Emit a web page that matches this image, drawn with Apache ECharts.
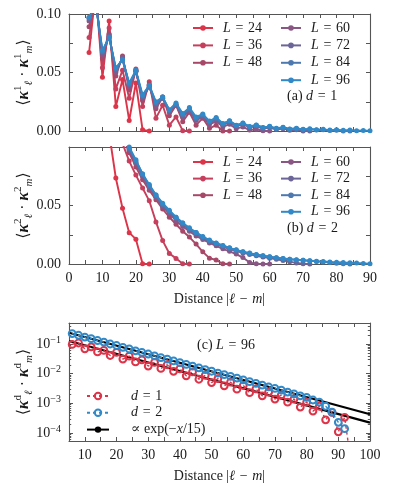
<!DOCTYPE html>
<html>
<head>
<meta charset="utf-8">
<script src="https://cdn.jsdelivr.net/npm/echarts@6/dist/echarts.min.js"></script>
<style>
html, body { margin: 0; padding: 0; background: #fff; }
#chart { width: 395px; height: 487px; }
</style>
</head>
<body>
<div id="chart"></div>
<script>
// distance |l - m| (even steps)
const distance = [6, 8, 10, 12, 14, 16, 18, 20, 22, 24, 26, 28, 30, 32, 34, 36, 38, 40, 42, 44, 46, 48,
  50, 52, 54, 56, 58, 60, 62, 64, 66, 68, 70, 72, 74, 76, 78, 80, 82, 84, 86, 88, 90, 92, 94]

const sizes = ['L=24', 'L=36', 'L=48', 'L=60', 'L=72', 'L=84', 'L=96']
const colors = ['#dc3448', '#c63f5c', '#a84868', '#8a5784', '#6b6598', '#4d79b0', '#3189c8']

// (a) d = 1
const d1L24 = [0.067, 0.120, 0.046, 0.094, 0.021, 0.044, 0.009, 0.041, 0.001, 0]
const d1L36 = [0.080, 0.118, 0.054, 0.088, 0.036, 0.052, 0.028, 0.053, 0.021, 0.042, 0.011, 0.022, 0.005, 0.012, 0.0003, 0]
const d1L48 = [0.089, 0.113, 0.062, 0.083, 0.047, 0.064, 0.035, 0.052, 0.026, 0.040, 0.019, 0.029, 0.013, 0.022, 0.008, 0.016,
  0.005, 0.011, 0.0023, 0.005, 0, 0]
const d1L60 = [0.094, 0.111, 0.065, 0.082, 0.050, 0.063, 0.038, 0.051, 0.028, 0.038, 0.021, 0.028, 0.016, 0.022, 0.012, 0.017,
  0.009, 0.012, 0.0055, 0.0085, 0.0035, 0.0058, 0.002, 0.0035, 0.0008, 0.0015, 0.0002, 0]
const d1L72 = [0.096, 0.110, 0.067, 0.081, 0.052, 0.062, 0.040, 0.051, 0.029, 0.038, 0.023, 0.028, 0.017, 0.022, 0.013, 0.018,
  0.010, 0.013, 0.007, 0.010, 0.0052, 0.0075, 0.0042, 0.0058, 0.003, 0.0042, 0.0021, 0.003, 0.0013, 0.002, 0.0007, 0.001, 0.0001, 0]
const d1L84 = [0.097, 0.109, 0.068, 0.080, 0.053, 0.061, 0.040, 0.051, 0.030, 0.039, 0.024, 0.029, 0.018, 0.023, 0.014, 0.019,
  0.011, 0.014, 0.008, 0.011, 0.006, 0.0085, 0.0048, 0.0066, 0.0037, 0.005, 0.0028, 0.0038, 0.0021, 0.0029, 0.0016, 0.0022,
  0.0012, 0.0016, 0.0008, 0.0011, 0.0004, 0.0006, 0.0001, 0]
const d1L96 = [0.097, 0.108, 0.069, 0.080, 0.054, 0.061, 0.041, 0.052, 0.031, 0.039, 0.025, 0.029, 0.018, 0.024, 0.015, 0.020,
  0.012, 0.0145, 0.0085, 0.0115, 0.0065, 0.0088, 0.0050, 0.0068, 0.0039, 0.0052, 0.0030, 0.0040, 0.0023, 0.0031, 0.0018, 0.0024,
  0.0014, 0.0019, 0.0011, 0.0014, 0.00075, 0.0011, 0.00055, 0.0008, 0.00028, 0.0005, 0.00011, 0.00034, 0.00001]

// (b) d = 2
const d2L24 = [0.20, 0.17, 0.14, 0.112, 0.0735, 0.0477, 0.0268, 0.0212, 0.0002, 0]
const d2L36 = [0.21, 0.18, 0.155, 0.135, 0.118, 0.103, 0.088, 0.076, 0.065, 0.054, 0.036, 0.020, 0.009, 0.0048, 0.0002, 0]
const d2L48 = [0.215, 0.19, 0.165, 0.145, 0.126, 0.111, 0.095, 0.083, 0.072, 0.063, 0.055, 0.047, 0.040, 0.034, 0.028, 0.023,
  0.017, 0.0104, 0.005, 0.0034, 0.0002, 0]
const d2L60 = [0.220, 0.193, 0.168, 0.147, 0.128, 0.113, 0.097, 0.086, 0.075, 0.065, 0.057, 0.049, 0.043, 0.037, 0.032, 0.028,
  0.024, 0.021, 0.018, 0.0155, 0.013, 0.0108, 0.0085, 0.0055, 0.0012, 0.0002, 0, 0]
const d2L72 = [0.222, 0.195, 0.169, 0.149, 0.129, 0.114, 0.098, 0.087, 0.076, 0.066, 0.058, 0.050, 0.044, 0.039, 0.034, 0.029,
  0.026, 0.022, 0.019, 0.017, 0.0148, 0.0128, 0.011, 0.0095, 0.0082, 0.007, 0.006, 0.005, 0.004, 0.003, 0.002, 0.0009, 0.0002, 0]
const d2L84 = [0.224, 0.196, 0.170, 0.150, 0.130, 0.115, 0.099, 0.088, 0.077, 0.067, 0.059, 0.051, 0.045, 0.040, 0.035, 0.030,
  0.027, 0.023, 0.020, 0.0178, 0.0156, 0.0136, 0.0119, 0.0104, 0.0091, 0.008, 0.007, 0.0061, 0.0053, 0.0046, 0.004, 0.0035,
  0.0031, 0.0027, 0.0022, 0.0018, 0.0013, 0.0007, 0.0002, 0]
const d2L96 = [0.225, 0.197, 0.171, 0.151, 0.131, 0.116, 0.100, 0.089, 0.077, 0.068, 0.059, 0.052, 0.046, 0.040, 0.035, 0.031,
  0.027, 0.0235, 0.0205, 0.018, 0.0158, 0.0138, 0.0121, 0.0105, 0.0093, 0.0081, 0.0071, 0.0062, 0.0054, 0.0047, 0.0041, 0.0036,
  0.0032, 0.0028, 0.0024, 0.0021, 0.0018, 0.0016, 0.0013, 0.0011, 0.0008, 0.00051, 0.00023, 0.00014]

// (c) fit lines, proportional to exp(-x/15), end points
const fitX = [5, 100]
const fitD1 = [0.126, 0.000224]
const fitD2 = [0.24, 0.00043]

// tick labels
const linTicksY = [0, 0.05, 0.10]
const logTicks = [1e-4, 1e-3, 1e-2, 1e-1]
const logRange = [5.4e-5, 0.51]

const d1Sets = [d1L24, d1L36, d1L48, d1L60, d1L72, d1L84, d1L96]
const d2Sets = [d2L24, d2L36, d2L48, d2L60, d2L72, d2L84, d2L96]

const FONT = '"Liberation Serif", "DejaVu Serif", serif'
const FRAME = '#555'
const TXT = '#1a1a1a'
const FS = 14
const EQ = '\u2004=\u2004'

const pairs = vals => vals.map((v, i) => [distance[i], v])
const logPairs = vals => vals.map((v, i) => [distance[i], Math.log10(v)])

const base = { fontFamily: FONT, fontSize: FS, color: TXT, fontWeight: 'normal' }
const rich = {
  a: Object.assign({}, base, { lineHeight: 18 }),
  i: Object.assign({}, base, { fontStyle: 'italic', lineHeight: 18 }),
  ya: Object.assign({}, base, { fontSize: 16, lineHeight: 22 }),
  k: Object.assign({}, base, { fontSize: 16, fontStyle: 'italic', fontWeight: 'bold', lineHeight: 22 }),
  sp: Object.assign({}, base, { fontSize: 11, verticalAlign: 'top', lineHeight: 12 }),
  sb: Object.assign({}, base, { fontSize: 11, fontStyle: 'italic', verticalAlign: 'bottom', lineHeight: 12 }),
  ip: Object.assign({}, base, { fontStyle: 'italic', lineHeight: 14, padding: [0, 0, 0, 5] }),
  a14: Object.assign({}, base, { lineHeight: 14 }),
  i14: Object.assign({}, base, { fontStyle: 'italic', lineHeight: 14 }),
  ic: Object.assign({}, base, { fontStyle: 'italic', lineHeight: 14, padding: [0, 0, 0, 17] }),
  ac: Object.assign({}, base, { lineHeight: 14, padding: [0, 0, 0, 17] }),
  e: Object.assign({}, base, { fontSize: 10, verticalAlign: 'top', lineHeight: 10 })
}

const yName = s => `{ya|⟨}{k|κ}{sp|${s}}{sb|ℓ}{ya| · }{k|κ}{sp|${s}}{sb|m}{ya|⟩}`
const xName = '{a|Distance |}{i|ℓ}{a|\u2004−\u2004}{i|m}{a||}'

function legendFmt(name) {
  if (name === 'fit') return '{ac|∝ exp(−}{i14|x}{a14|/15)}'
  const [v, n] = name.split('=')
  if (v === 'd') return `{ic|d}{a14|${EQ}${n}}`
  return `{ip|L}{a14|${EQ}${n}}`
}

function xAx(grid, pos, min, max, labels, extra) {
  return Object.assign({
    type: 'value', gridIndex: grid, position: pos, min, max, interval: 5,
    axisLine: { show: true, onZero: false, lineStyle: { color: FRAME, width: 1.1 } },
    axisTick: { show: true, inside: true, length: 4, lineStyle: { color: FRAME } },
    axisLabel: {
      show: labels, margin: 7, fontFamily: FONT, fontSize: FS, color: TXT,
      formatter: v => (v % 10 === 0 ? String(v) : '')
    },
    splitLine: { show: false }
  }, extra || {})
}

function yLin(grid, pos, labels, showTop) {
  return {
    type: 'value', gridIndex: grid, position: pos, min: 0, max: 0.1, interval: 0.025,
    axisLine: { show: true, onZero: false, lineStyle: { color: FRAME, width: 1.1 } },
    axisTick: { show: true, inside: true, length: 4, lineStyle: { color: FRAME } },
    axisLabel: {
      show: labels, margin: 8, fontFamily: FONT, fontSize: FS, color: TXT,
      formatter: v => {
        const hit = linTicksY.find(t => Math.abs(t - v) < 1e-9)
        if (hit === undefined) return ''
        if (!showTop && hit === 0.10) return ''
        return hit.toFixed(2)
      }
    },
    splitLine: { show: false }
  }
}

const logMin = Math.log10(logRange[0])
const logMax = Math.log10(logRange[1])
const logMajor = logTicks.map(Math.log10)
const logMinor = []
for (let p = -5; p <= 0; p++) {
  for (let k = 2; k <= 9; k++) {
    const v = Math.log10(k * Math.pow(10, p))
    if (v > logMin && v < logMax) logMinor.push(v)
  }
}

function yLog(grid, pos, labels, ticks, len, line) {
  return {
    type: 'value', gridIndex: grid, position: pos, min: logMin, max: logMax,
    axisLine: { show: line, onZero: false, lineStyle: { color: FRAME, width: 1.1 } },
    axisTick: { show: true, inside: true, length: len, customValues: ticks, lineStyle: { color: FRAME } },
    axisLabel: {
      show: labels, margin: 8, customValues: logMajor, rich,
      formatter: v => `{a|10}{e|−${Math.round(-v)}}`
    },
    splitLine: { show: false }
  }
}

const yNameOpts = s => ({
  name: yName(s), nameLocation: 'middle', nameRotate: 90, nameGap: 34,
  nameMoveOverlap: false, nameTextStyle: { rich }
})

const seriesList = []
sizes.forEach((name, i) => {
  seriesList.push({
    type: 'line', name, xAxisIndex: 0, yAxisIndex: 0, data: pairs(d1Sets[i]),
    color: colors[i], symbol: 'circle', symbolSize: 5, showSymbol: true,
    lineStyle: { width: 1.9 }, clip: true, z: 2 + i
  })
})
sizes.forEach((name, i) => {
  seriesList.push({
    type: 'line', name, xAxisIndex: 2, yAxisIndex: 2, data: pairs(d2Sets[i]),
    color: colors[i], symbol: 'circle', symbolSize: 5, showSymbol: true,
    lineStyle: { width: 1.9 }, clip: true, z: 2 + i
  })
})
;[fitD1, fitD2].forEach(f => {
  seriesList.push({
    type: 'line', name: 'fit', xAxisIndex: 4, yAxisIndex: 4,
    data: fitX.map((x, i) => [x, Math.log10(f[i])]),
    color: '#000', symbol: 'none', lineStyle: { color: '#000', width: 2.2 }, clip: true, z: 1
  })
})
;[['d=1', d1L96, colors[0]], ['d=2', d2L96, colors[6]]].forEach(([name, vals, c]) => {
  seriesList.push({
    type: 'line', name, xAxisIndex: 4, yAxisIndex: 4, data: logPairs(vals),
    color: c, symbol: 'circle', symbolSize: 6.8, showSymbol: true,
    itemStyle: { color: 'rgba(255,255,255,0)', borderColor: c, borderWidth: 2 },
    lineStyle: { color: c, width: 1.4, type: [3, 3] }, clip: true, z: 3
  })
})

function legendAt(names, left, top, gap, w, h) {
  return {
    data: names, left, top, orient: 'vertical', padding: 0, itemGap: gap,
    itemWidth: w, itemHeight: h, selectedMode: false, formatter: legendFmt,
    textStyle: { rich, fontFamily: FONT, fontSize: FS }
  }
}

const option = {
  animation: false,
  backgroundColor: '#fff',
  textStyle: { fontFamily: FONT },
  grid: [
    { left: 69, top: 14, width: 301, height: 117, outerBoundsMode: 'none' },
    { left: 69, top: 147, width: 301, height: 117, outerBoundsMode: 'none' },
    { left: 69, top: 323, width: 301, height: 118, outerBoundsMode: 'none' },
    { left: 69, top: 323, width: 301, height: 118, outerBoundsMode: 'none' }
  ],
  title: [
    { text: `{a|(a) }{i|d}{a|${EQ}1}`, left: 287, top: 87, padding: 0, textStyle: { rich, fontWeight: 'normal' } },
    { text: `{a|(b) }{i|d}{a|${EQ}2}`, left: 287, top: 219, padding: 0, textStyle: { rich, fontWeight: 'normal' } },
    { text: `{a|(c) }{i|L}{a|${EQ}96}`, left: 197, top: 336, padding: 0, textStyle: { rich, fontWeight: 'normal' } }
  ],
  legend: [
    legendAt(sizes.slice(0, 3), 192, 21, 3.4, 20, 7),
    legendAt(sizes.slice(3), 280, 21, 3.4, 20, 7),
    legendAt(sizes.slice(0, 3), 192, 155, 2.6, 20, 7),
    legendAt(sizes.slice(3), 280, 155, 2.6, 20, 7),
    legendAt(['d=1', 'd=2', 'fit'], 86, 389, 2.8, 22, 8)
  ],
  xAxis: [
    xAx(0, 'bottom', 0, 90, false),
    xAx(0, 'top', 0, 90, false),
    xAx(1, 'bottom', 0, 90, true, {
      name: xName, nameLocation: 'middle', nameGap: 26, nameTextStyle: { rich }
    }),
    xAx(1, 'top', 0, 90, false),
    xAx(2, 'bottom', 5, 100, true, {
      name: xName, nameLocation: 'middle', nameGap: 26, nameTextStyle: { rich }
    }),
    xAx(2, 'top', 5, 100, false),
    { type: 'value', gridIndex: 3, min: 5, max: 100, show: false }
  ],
  yAxis: [
    Object.assign(yLin(0, 'left', true, true), yNameOpts('1')),
    yLin(0, 'right', false, false),
    Object.assign(yLin(1, 'left', true, false), yNameOpts('2')),
    yLin(1, 'right', false, false),
    Object.assign(yLog(2, 'left', true, logMajor, 4, true), yNameOpts('d')),
    yLog(2, 'right', false, logMajor, 4, true),
    yLog(3, 'left', false, logMinor, 2.2, false),
    yLog(3, 'right', false, logMinor, 2.2, false)
  ],
  series: seriesList
}

const chart = echarts.init(document.getElementById('chart'), null, { renderer: 'canvas' })
chart.setOption(option)
</script>
</body>
</html>
